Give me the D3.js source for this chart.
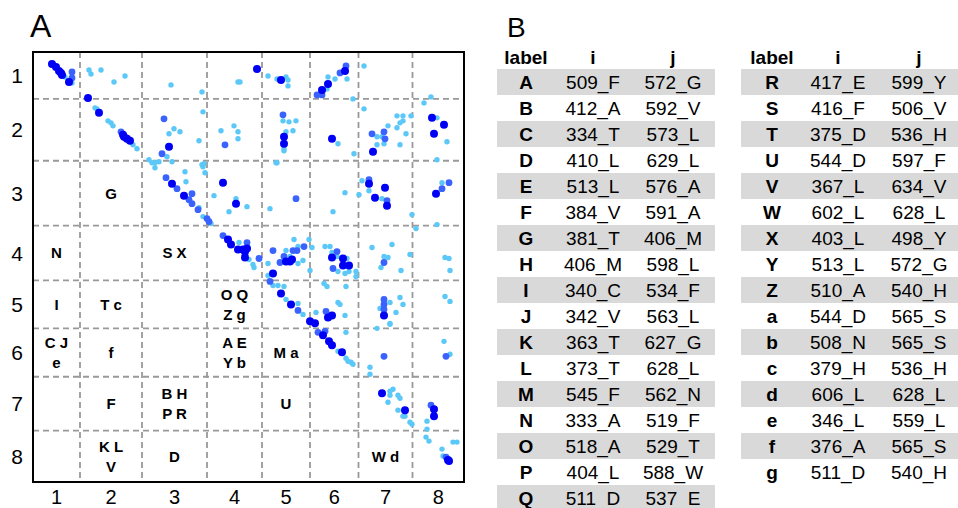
<!DOCTYPE html>
<html>
<head>
<meta charset="utf-8">
<script src="https://cdn.jsdelivr.net/npm/d3@7"></script>
<style>
  body { margin: 0; background: #fff; }
  text { font-family: "Liberation Sans", Arial, sans-serif; }
</style>
</head>
<body>
<script>

  // ---- panel B table ----
  var labels = ["A","B","C","D","E","F","G","H","I","J","K","L","M","N","O","P","Q",
                "R","S","T","U","V","W","X","Y","Z","a","b","c","d","e","f","g"];
  var iRes = ["509_F","412_A","334_T","410_L","513_L","384_V","381_T","406_M","340_C","342_V","363_T","373_T","545_F","333_A","518_A","404_L","511_D",
              "417_E","416_F","375_D","544_D","367_L","602_L","403_L","513_L","510_A","544_D","508_N","379_H","606_L","346_L","376_A","511_D"];
  var jRes = ["572_G","592_V","573_L","629_L","576_A","591_A","406_M","598_L","534_F","563_L","627_G","628_L","562_N","519_F","529_T","588_W","537_E",
              "599_Y","506_V","536_H","597_F","634_V","628_L","498_Y","572_G","540_H","565_S","565_S","536_H","628_L","559_L","565_S","540_H"];

  // residue ranges of the 8 segments (start of each, last is end)
  var segResidues = [330, 353, 396, 451, 525, 551, 581, 616, 641];

  // ---- panel A map ----
  var segTicks = ["1","2","3","4","5","6","7","8"];
  // segment borders in map index units
  var segBounds = [0, 47, 109, 174, 229, 277, 325.5, 379.5, 431];

  var strong = [[19,12],[23,15],[26,19],[28,21],[29,23],[36,30],[55,46],[66,61],[90,83],[91,85],[94,87],[97,89],[136,95],
    [224,17],[248,28],[312,19],[295,32],[289,38],[251,85],[251,92],[299,87],[340,100],[399,66],[411,73],[401,82],
    [139,132],[151,144],[190,131],[203,152],[336,132],[342,146],[352,136],[354,154],[403,142],
    [195,188],[198,193],[205,198],[212,200],[210,198],[214,197],[212,206],[253,210],[257,210],[259,208],
    [299,206],[310,207],[310,214],[316,214],[240,222],[248,242],[258,253],[277,270],[282,272],[295,266],[299,264],[351,264],
    [290,284],[296,290],[299,294],[309,301],[349,342],[372,359],[401,358],[401,365],[415,409],[416,410]];

  var medium = [[39,20],[39,26],[88,80],[131,67],[129,102],[313,14],[307,21],[289,43],[284,43],[250,63],[339,82],[351,80],[352,87],
    [192,93],[133,126],[144,137],[156,148],[159,142],[159,152],[165,158],[174,167],[176,170],[263,147],[336,128],[354,149],
    [416,131],[409,137],[190,184],[214,191],[212,203],[226,207],[240,199],[251,205],[247,211],[260,199],[264,199],[271,195],
    [304,200],[300,217],[351,211],[237,230],[265,259],[293,260],[351,248],[351,253],[351,258],[285,281],[292,280],[351,305],
    [413,305],[398,354],[413,406]];

  var weak = [[32,25],[39,31],[56,18],[58,22],[68,18],[81,30],[92,24],[138,33],[169,40],[205,30],[207,30],[235,24],[244,27],
    [253,25],[255,28],[255,34],[302,27],[314,27],[295,25],[294,37],[331,14],[320,47],[398,45],[391,51],
    [62,56],[64,57],[75,69],[78,71],[80,74],[100,93],[104,97],[141,77],[136,82],[147,80],[134,105],[139,110],[170,60],[166,89],
    [171,112],[170,115],[188,79],[201,74],[205,80],[205,87],[250,69],[256,70],[263,69],[260,79],[253,80],[251,97],[251,99],
    [243,111],[305,92],[321,102],[331,57],[344,85],[344,93],[349,85],[351,92],[355,74],[364,64],[370,64],[367,71],[370,69],
    [364,76],[373,82],[367,93],[378,64],[404,66],[414,90],[404,108],
    [116,108],[119,111],[122,111],[126,110],[122,116],[152,120],[153,130],[166,156],[170,165],[178,172],[169,113],[172,121],
    [181,144],[203,147],[196,160],[214,155],[244,111],[237,157],[300,160],[312,141],[326,143],[329,129],[336,139],[349,147],
    [409,131],[379,163],[383,177],[404,173],
    [206,191],[216,208],[220,213],[221,216],[235,212],[261,188],[265,195],[276,188],[270,209],[253,199],[257,205],[265,212],
    [279,196],[277,219],[292,195],[297,195],[304,205],[314,207],[305,220],[312,222],[316,220],[323,220],[323,225],[299,201],
    [339,196],[359,193],[351,205],[355,206],[348,216],[368,219],[377,203],[412,206],[416,207],[417,219],
    [235,224],[240,234],[245,234],[251,235],[253,248],[265,252],[270,263],[283,261],[291,232],[294,235],[305,251],[307,253],
    [312,264],[313,235],[347,257],[357,251],[363,261],[367,246],[370,253],[357,272],[412,245],[417,250],
    [305,300],[313,307],[315,310],[318,311],[320,313],[313,281],[344,277],[357,273],[411,290],[417,303],[337,316],[337,323],
    [357,340],[360,338],[357,344],[365,344],[367,347],[355,351],[365,359],[370,365],[372,365],[377,371],[379,373],[394,370],[394,378],
    [393,386],[396,390],[409,398],[410,405],[420,391],[424,391]];

  var svg = d3.select("body").append("svg")
      .attr("width", 958)
      .attr("height", 508);

  var x = d3.scaleLinear().domain([0, 431]).range([33, 464]);
  var y = d3.scaleLinear().domain([0, 431]).range([52, 482]);

  var mids = segTicks.map(function(d, i) { return (segBounds[i] + segBounds[i + 1]) / 2; });

  svg.append("text").attr("x", 30).attr("y", 37)
    .style("font-size", "32px").text("A");

  // dashed segment borders
  var inner = segBounds.slice(1, -1);
  svg.selectAll("line.v").data(inner).enter().append("line")
    .attr("class", "v")
    .attr("x1", function(d) { return x(d); }).attr("x2", function(d) { return x(d); })
    .attr("y1", y(0)).attr("y2", y(431))
    .attr("stroke", "#999").attr("stroke-width", 1.8).attr("stroke-dasharray", "6,4");
  svg.selectAll("line.h").data(inner).enter().append("line")
    .attr("class", "h")
    .attr("y1", function(d) { return y(d); }).attr("y2", function(d) { return y(d); })
    .attr("x1", x(0)).attr("x2", x(431))
    .attr("stroke", "#999").attr("stroke-width", 1.8).attr("stroke-dasharray", "6,4");

  // contact points
  var series = [
    { pts: weak, color: "#5cc8f7", r: 2.7 },
    { pts: medium, color: "#3a62ff", r: 3.4 },
    { pts: strong, color: "#0000f5", r: 4 }
  ];
  series.forEach(function(s) {
    svg.append("g").selectAll("circle").data(s.pts).enter().append("circle")
      .attr("cx", function(d) { return x(d[0]); })
      .attr("cy", function(d) { return y(d[1]); })
      .attr("r", s.r)
      .attr("fill", s.color);
  });

  // labels placed in the cell of their segment pair
  var segOf = function(res) {
    var n = parseInt(res);
    for (var k = 0; k < 8; k++) {
      if (n >= segResidues[k] && n < segResidues[k + 1]) return k;
    }
    return 7;
  };
  var cells = d3.groups(labels.map(function(l, i) {
    return { label: l, col: segOf(iRes[i]), row: segOf(jRes[i]) };
  }), function(d) { return d.col + "," + d.row; });

  cells.forEach(function(c) {
    var items = c[1].map(function(d) { return d.label; });
    var lines = [];
    for (var k = 0; k < items.length; k += 2) lines.push(items.slice(k, k + 2).join(" "));
    var cx = x(mids[c[1][0].col]), cy = y(mids[c[1][0].row]);
    lines.forEach(function(t, k) {
      svg.append("text")
        .attr("x", cx)
        .attr("y", cy + (k - (lines.length - 1) / 2) * 20)
        .attr("dy", "0.36em")
        .attr("text-anchor", "middle")
        .style("font-size", "15px").style("font-weight", "bold")
        .text(t);
    });
  });

  // frame
  svg.append("rect")
    .attr("x", x(0)).attr("y", y(0))
    .attr("width", x(431) - x(0)).attr("height", y(431) - y(0))
    .attr("fill", "none").attr("stroke", "#000").attr("stroke-width", 2);

  // axis labels
  svg.selectAll("text.xt").data(segTicks).enter().append("text")
    .attr("class", "xt")
    .attr("x", function(d, i) { return x(mids[i]); })
    .attr("y", 497)
    .attr("dy", "0.36em")
    .attr("text-anchor", "middle")
    .style("font-size", "20px")
    .text(function(d) { return d; });
  svg.selectAll("text.yt").data(segTicks).enter().append("text")
    .attr("class", "yt")
    .attr("x", 23)
    .attr("y", function(d, i) { return y(mids[i]); })
    .attr("dy", "0.36em")
    .attr("text-anchor", "end")
    .style("font-size", "21px")
    .text(function(d) { return d; });

  // ---- panel B ----
  svg.append("text").attr("x", 507).attr("y", 37)
    .style("font-size", "28px").text("B");

  var rowH = 26, tableTop = 69;
  var tables = [
    { from: 0, to: 17, x0: 497, x1: 715, cols: [526, 593, 673] },
    { from: 17, to: 33, x0: 741, x1: 958, cols: [772, 838, 919] }
  ];
  tables.forEach(function(t) {
    ["label", "i", "j"].forEach(function(h, k) {
      svg.append("text")
        .attr("x", t.cols[k]).attr("y", 57).attr("dy", "0.36em")
        .attr("text-anchor", "middle")
        .style("font-size", "19px").style("font-weight", "bold")
        .text(h);
    });
    var idx = d3.range(t.from, t.to);
    var g = svg.append("g");
    var rows = g.selectAll("g").data(idx).enter().append("g")
      .attr("transform", function(d, k) { return "translate(0," + (tableTop + k * rowH) + ")"; });
    rows.filter(function(d, k) { return k % 2 === 0; }).append("rect")
      .attr("x", t.x0).attr("width", t.x1 - t.x0)
      .attr("height", rowH)
      .attr("fill", "#d9d9d9");
    rows.append("text")
      .attr("x", t.cols[0]).attr("y", rowH / 2).attr("dy", "0.36em")
      .attr("text-anchor", "middle")
      .style("font-size", "19px").style("font-weight", "bold")
      .text(function(d) { return labels[d]; });
    rows.append("text")
      .attr("x", t.cols[1]).attr("y", rowH / 2).attr("dy", "0.36em")
      .attr("text-anchor", "middle")
      .style("font-size", "19px")
      .text(function(d) { return iRes[d]; });
    rows.append("text")
      .attr("x", t.cols[2]).attr("y", rowH / 2).attr("dy", "0.36em")
      .attr("text-anchor", "middle")
      .style("font-size", "19px")
      .text(function(d) { return jRes[d]; });
  });
</script>
</body>
</html>
